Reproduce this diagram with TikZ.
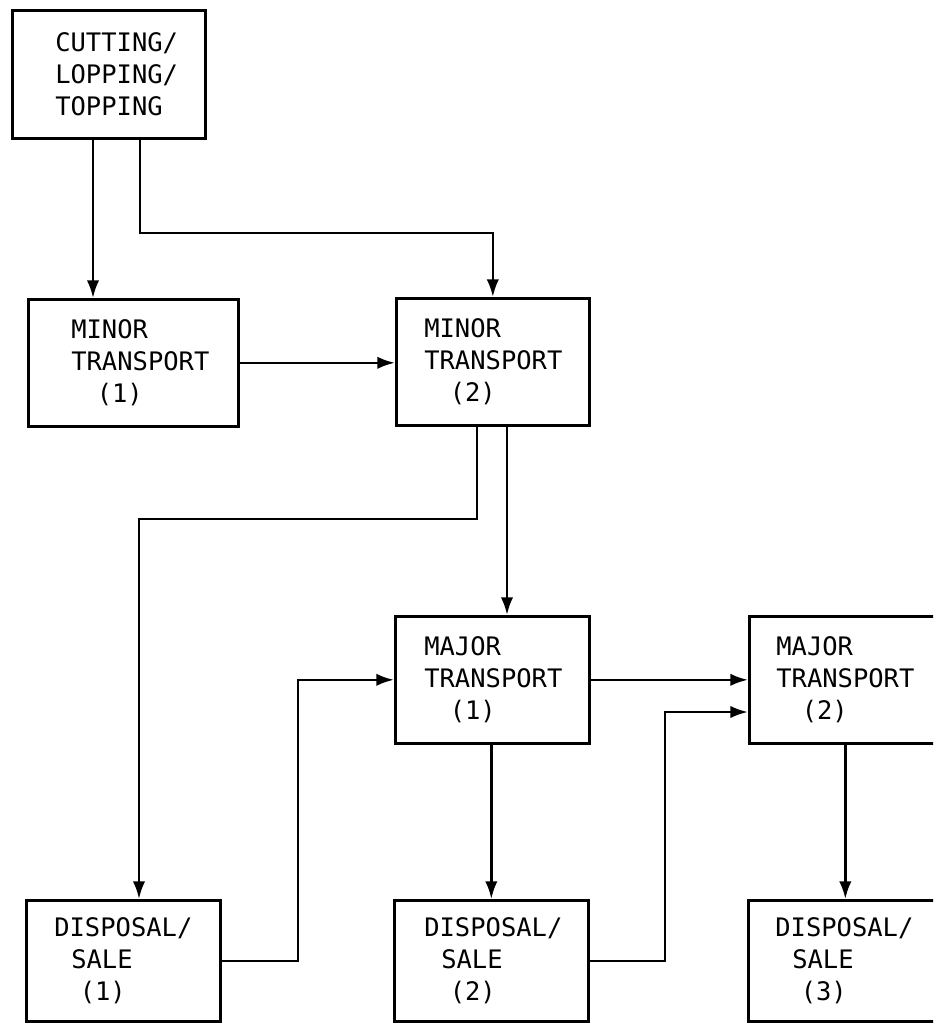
\documentclass[tikz,border=0pt]{standalone}
\usepackage{fontspec}
\usetikzlibrary{arrows.meta}
\setmonofont{DejaVu Sans Mono}
\newlength\pxl
\setlength\pxl{0.02cm}
\tikzset{
  blk/.style={draw, line width=1.5pt, anchor=north west, align=left,
    font=\ttfamily\fontsize{14.5}{18}\selectfont},
  link/.style={->, line width=1.5pt}
}
\begin{document}
\begin{tikzpicture}[x=0.02cm, y=-0.02cm, >={Latex[length=10pt,width=7pt]}]
    % 1. Page frame (pixel units, y downwards)
    \clip (0,0) rectangle (933,1027);
    \fill[white] (0,0) rectangle (933,1027);

    % 2. Boxes
    \node[blk, text width=107\pxl, inner xsep=43\pxl, minimum height=128\pxl] (cut) at (11,9)
        {CUTTING/\\LOPPING/\\TOPPING};
    \node[blk, text width=124\pxl, inner xsep=43\pxl, minimum height=127\pxl] (min1) at (27,298)
        {MINOR\\TRANSPORT\\~~~(1)};
    \node[blk, text width=137\pxl, inner xsep=28\pxl, minimum height=127\pxl] (min2) at (395,297)
        {MINOR\\TRANSPORT\\~~~(2)};
    \node[blk, text width=136\pxl, inner xsep=29\pxl, minimum height=127\pxl] (maj1) at (394,615)
        {MAJOR\\TRANSPORT\\~~~(1)};
    \node[blk, text width=140\pxl, inner xsep=27\pxl, minimum height=127\pxl] (maj2) at (748,615)
        {MAJOR\\TRANSPORT\\~~~(2)};
    \node[blk, text width=138\pxl, inner xsep=28\pxl, minimum height=121\pxl] (dis1) at (25,899)
        {DISPOSAL/\\~~SALE\\~~~(1)};
    \node[blk, text width=134\pxl, inner xsep=30\pxl, minimum height=121\pxl] (dis2) at (393,899)
        {DISPOSAL/\\~~SALE\\~~~(2)};
    \node[blk, text width=140\pxl, inner xsep=27\pxl, minimum height=121\pxl] (dis3) at (747,899)
        {DISPOSAL/\\~~SALE\\~~~(3)};

    % 3. Bend points of the connectors
    \coordinate (ca) at (93,0);
    \coordinate (cb) at (140,233);
    \coordinate (cc) at (477,519);
    \coordinate (cd) at (139,519);
    \coordinate (ce) at (507,0);
    \coordinate (cf) at (298,0);
    \coordinate (cg) at (665,712);

    % 4. Connectors
    \draw[link] (cut.south -| ca) -- (min1.north -| ca);
    \draw[link] (cut.south -| cb) -- (cb) -| (min2.north);
    \draw[link] (min1.east) -- (min2.west |- min1.east);
    \draw[link] (min2.south -| cc) -- (cc) -- (cd) -- (dis1.north -| cd);
    \draw[link] (min2.south -| ce) -- (maj1.north -| ce);
    \draw[link] (dis1.east) -- (dis1.east -| cf) |- (maj1.west);
    \draw[link] (maj1.east) -- (maj2.west |- maj1.east);
    \draw[link] (maj1.south -| dis2.north) -- (dis2.north);
    \draw[link] (dis2.east) -| (cg) -- (maj2.west |- cg);
    \draw[link] (maj2.south -| dis3.north) -- (dis3.north);
\end{tikzpicture}
\end{document}
